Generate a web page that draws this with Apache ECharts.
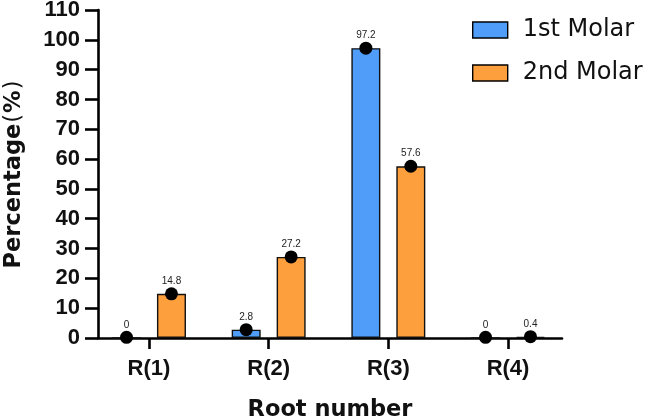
<!DOCTYPE html>
<html><head><meta charset="utf-8">
<script src="https://cdn.jsdelivr.net/npm/echarts@6/dist/echarts.min.js"></script>
<style>html,body{margin:0;padding:0;background:#fff}#c{width:646px;height:418px}</style>
</head><body><div id="c"></div>
<script>
const categories = ['R(1)', 'R(2)', 'R(3)', 'R(4)'];
const seriesNames = ['1st Molar', '2nd Molar'];
const firstMolar = [0, 2.8, 97.2, 0];
const secondMolar = [14.8, 27.2, 57.6, 0.4];
const yTicks = [0, 10, 20, 30, 40, 50, 60, 70, 80, 90, 100, 110];

const FONT = 'Liberation Sans, Arial, sans-serif';
const TFONT = 'DejaVu Sans, sans-serif';
const catIdx = categories.map((c, i) => i + 1);
function pairs(vals) { return vals.map((v, i) => [catIdx[i], v]); }
function lab() {
  return {
    show: true, position: 'top', distance: -6.5,
    formatter: p => '{v|' + p.value[1] + '}\n{d|}',
    rich: {
      v: { fontFamily: FONT, fontSize: 10, color: '#222', lineHeight: 12, align: 'center' },
      d: { width: 13, height: 13, borderRadius: 6.5, backgroundColor: '#000', align: 'center' }
    }
  };
}
const chart = echarts.init(document.getElementById('c'), null, { renderer: 'canvas' });
chart.setOption({
  animation: false,
  grid: { left: 98, right: 84, top: 10, bottom: 80, containLabel: false, outerBoundsMode: 'none' },
  legend: {
    orient: 'vertical', left: 467, top: 10, itemWidth: 35, itemHeight: 16, itemGap: 13,
    icon: 'rect',
    textStyle: { fontFamily: TFONT, fontSize: 24, lineHeight: 30, color: '#111', padding: [0, 0, 0, 10] },
    itemStyle: { borderColor: '#000', borderWidth: 1.4 },
    data: seriesNames
  },
  xAxis: {
    type: 'value', min: 0.574, max: 4.451,
    name: 'Root number', nameLocation: 'middle', nameGap: 61,
    nameTextStyle: { fontFamily: TFONT, fontSize: 22.5, fontWeight: 'bold', color: '#111' },
    axisLine: { show: true, lineStyle: { color: '#000', width: 2.6 } },
    axisTick: { show: true, length: 11, lineStyle: { color: '#000', width: 2.6 }, customValues: catIdx },
    axisLabel: { customValues: catIdx, formatter: v => categories[Math.round(v) - 1], margin: 20,
      fontFamily: FONT, fontSize: 22, fontWeight: 'bold', color: '#111' },
    splitLine: { show: false }
  },
  yAxis: {
    type: 'value', min: yTicks[0], max: yTicks[yTicks.length - 1], interval: 10,
    name: '{b|Percentage}{p|(}{b|%}{p|)}', nameLocation: 'middle', nameGap: 72, nameRotate: 90,
    nameTextStyle: { fontFamily: TFONT, fontSize: 22.5, fontWeight: 'bold', color: '#111',
      rich: {
        b: { fontFamily: TFONT, fontSize: 22.5, fontWeight: 'bold', color: '#111' },
        p: { fontFamily: TFONT, fontSize: 22.5, fontWeight: 'normal', color: '#111', padding: [0, 1] }
      } },
    axisLine: { show: true, lineStyle: { color: '#000', width: 2.6 } },
    axisTick: { show: true, length: 13, lineStyle: { color: '#000', width: 2.6 } },
    axisLabel: { margin: 18, fontFamily: FONT, fontSize: 22, fontWeight: 'bold', color: '#111' },
    splitLine: { show: false }
  },
  series: [
    { name: seriesNames[0], type: 'bar', barWidth: 29, barGap: '55%', data: pairs(firstMolar),
      itemStyle: { color: '#4F9DF8', borderColor: '#111', borderWidth: 1.4 }, label: lab(), z: 2 },
    { name: seriesNames[1], type: 'bar', barWidth: 29, barGap: '55%', data: pairs(secondMolar),
      itemStyle: { color: '#FD9F3C', borderColor: '#111', borderWidth: 1.4 }, label: lab(), z: 2 }
  ]
});
</script></body></html>
